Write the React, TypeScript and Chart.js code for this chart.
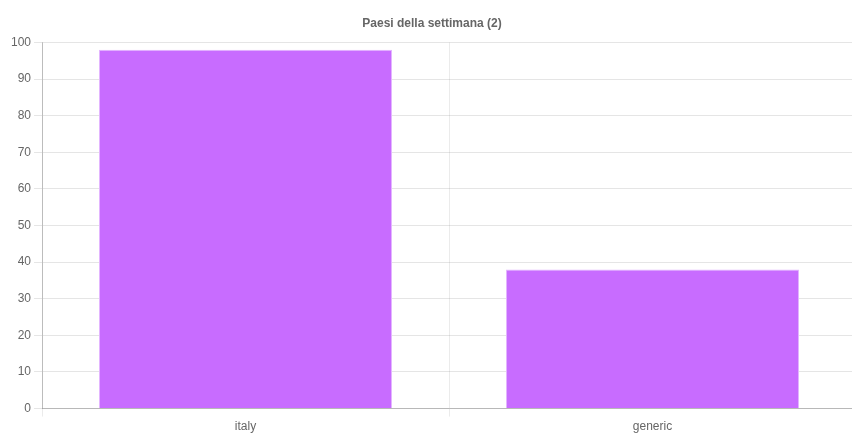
import { useEffect, useRef } from 'react';
import { Chart, registerables } from 'chart.js';

Chart.register(...registerables);

const countries = ['italy', 'generic'];
const visits = [98, 38];
const chartTitle = 'Paesi della settimana (2)';

const App = () => {
  const canvasRef = useRef<HTMLCanvasElement | null>(null);

  useEffect(() => {
    const chart = new Chart(canvasRef.current!, {
      type: 'bar',
      data: {
        labels: countries,
        datasets: [
          {
            data: visits,
            backgroundColor: '#c86cff',
            borderColor: '#e3b6ff',
            borderWidth: 1,
          },
        ],
      },
      options: {
        animation: false,
        maintainAspectRatio: false,
        plugins: {
          legend: { display: false },
          title: {
            display: true,
            text: chartTitle,
            color: '#666',
            font: { size: 12, weight: 'bold', family: 'Arial' },
            padding: { top: 8, bottom: 12 },
          },
          tooltip: { enabled: false },
        },
        scales: {
          x: {
            grid: { color: 'rgba(0,0,0,0.08)', tickLength: 8 },
            border: { color: 'rgba(0,0,0,0.2)' },
            ticks: { color: '#666', font: { size: 12, family: 'Arial' } },
          },
          y: {
            min: 0,
            max: 100,
            ticks: { stepSize: 10, color: '#666', font: { size: 12, family: 'Arial' } },
            grid: { color: 'rgba(0,0,0,0.1)', tickLength: 8 },
            border: { color: 'rgba(0,0,0,0.2)' },
          },
        },
      },
    });
    return () => chart.destroy();
  }, []);

  return (
    <div style={{ position: 'relative', width: 848, height: 429 }}>
      <canvas ref={canvasRef}></canvas>
    </div>
  );
};

export default App;
